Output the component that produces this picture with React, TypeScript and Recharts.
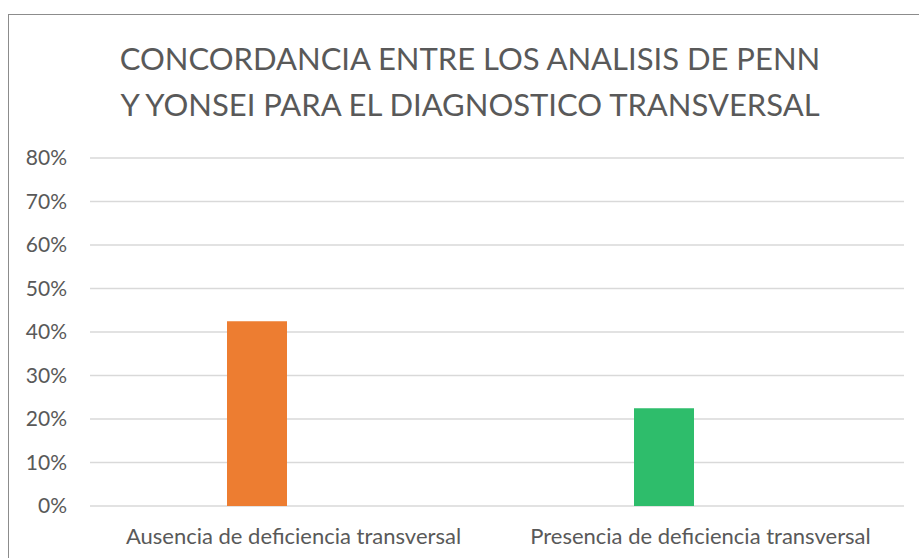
import React from 'react';
import { BarChart, Bar, XAxis, YAxis, CartesianGrid, Cell } from 'recharts';

const categories = ['Ausencia de deficiencia transversal', 'Presencia de deficiencia transversal'];
const concordance = [42.5, 22.5];
const spacer = [0, 0];
const barColors = ['#ED7D31', '#2EBD6B'];
const yTicks = [0, 10, 20, 30, 40, 50, 60, 70, 80];
const titleLines = ['CONCORDANCIA ENTRE LOS ANALISIS DE PENN', 'Y YONSEI PARA EL DIAGNOSTICO TRANSVERSAL'];

const data = categories.map((name, i) => ({ name, value: concordance[i], spacer: spacer[i] }));

const font = 'Lato, "Open Sans", sans-serif';
const textColor = '#595959';

export default function App() {
  return (
    <div
      style={{
        position: 'absolute',
        left: 8,
        top: 14,
        right: 0,
        bottom: 0,
        overflow: 'hidden',
        borderLeft: '1px solid #8c8c8c',
        borderTop: '1px solid #8c8c8c',
        background: '#fff',
        fontFamily: font,
      }}
    >
      <div
        style={{
          position: 'absolute',
          left: 0,
          width: 922,
          top: 20,
          textAlign: 'center',
          color: textColor,
          fontSize: 31,
          lineHeight: '46px',
        }}
      >
        {titleLines.map((t) => (
          <div key={t}>{t}</div>
        ))}
      </div>
      <BarChart
        width={911}
        height={544}
        data={data}
        margin={{ top: 144, right: 15, left: 0, bottom: 0 }}
        barGap={14}
        barSize={60}
        style={{ position: 'absolute', left: -1, top: -1 }}
      >
        <CartesianGrid vertical={false} stroke="#d9d9d9" strokeWidth={1.5} />
        <XAxis
          dataKey="name"
          axisLine={false}
          tickLine={false}
          tickSize={0}
          tickMargin={22}
          height={52}
          tick={{ fill: textColor, fontSize: 22, fontFamily: font }}
        />
        <YAxis
          domain={[0, 80]}
          ticks={yTicks}
          width={82}
          axisLine={false}
          tickLine={false}
          tickSize={0}
          tickMargin={23}
          tickFormatter={(v: number) => `${v}%`}
          tick={{ fill: textColor, fontSize: 21, fontFamily: font }}
        />
        <Bar dataKey="value" isAnimationActive={false}>
          {data.map((d, i) => (
            <Cell key={d.name} fill={barColors[i]} />
          ))}
        </Bar>
        <Bar dataKey="spacer" fill="transparent" isAnimationActive={false} />
      </BarChart>
    </div>
  );
}
